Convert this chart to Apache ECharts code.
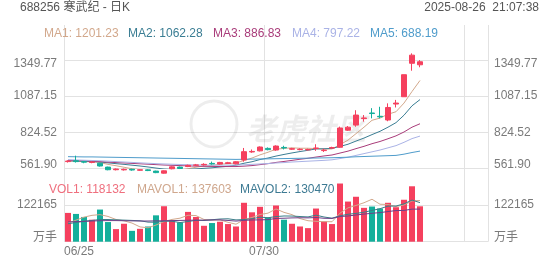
<!DOCTYPE html>
<html><head><meta charset="utf-8">
<script src="https://cdn.jsdelivr.net/npm/echarts@6/dist/echarts.min.js"></script>
<style>html,body{margin:0;padding:0;background:#fff}#c{width:552px;height:265px}</style>
</head><body><div id="c"></div>
<script>
// ---------- data ----------
const dates = ['06/25','06/26','06/27','06/30','07/01','07/02','07/03','07/04','07/07','07/08','07/09','07/10','07/11','07/14','07/15','07/16','07/17','07/18','07/21','07/22','07/23','07/24','07/25','07/28','07/29','07/30','07/31','08/01','08/04','08/05','08/06','08/07','08/08','08/11','08/12','08/13','08/14','08/15','08/18','08/19','08/20','08/21','08/22','08/25','08/26'];
const emptySlots = 8;
const opens  = [612,618,612,606,600,572,553,552,556,549,552,543,528,560,572,576,585,588,599,594,598,596,624,682,690,708,696,715,702,699,697,707,692,710,716,840,877,924,965,941,914,1030,1083,1326,1315];
const closes = [616,612,608,609,580,553,558,556,551,553,547,532,545,574,562,585,588,592,595,606,604,611,684,686,718,699,725,711,706,702,700,711,695,714,856,862,950,929,961,937,1005,1037,1243,1385,1337];
const lows   = [605,605,600,600,576,549,548,547,546,545,543,528,525,556,558,572,580,583,590,590,595,592,611,676,686,694,690,700,697,694,693,690,682,705,712,835,865,902,926,926,905,1005,1083,1272,1297];
const highs  = [622,655,616,615,603,575,562,561,560,557,556,546,548,578,576,590,595,600,612,610,610,615,711,700,722,715,730,727,712,708,706,738,705,720,866,870,985,950,1000,1010,1035,1060,1243,1398,1349];
const ma1 = [615,614,612,611,605,592,582,571,560,554,553,548,546,550,552,560,571,580,584,593,597,602,620,638,661,680,702,708,712,709,709,706,703,704,735,768,815,862,912,928,956,974,1037,1121,1201.23];
const ma2 = [618,617,615,613,609,603,597,592,586,580,573,565,558,555,553,556,559,563,567,573,578,586,600,611,627,638,652,664,675,685,694,704,705,708,722,738,761,783,808,832,862,895,949,1017,1062.28];
const ma3 = [621,619,617,615,612,608,605,602,599,596,593,590,587,585,583,581,579,578,577,576,576,576,579,583,590,597,606,613,621,629,636,645,653,660,674,688,706,723,742,758,778,799,827,862,886.83];
const ma4 = [626,624,622,620,618,615,612,609,606,603,600,597,595,593,591,589,588,587,586,586,586,587,589,592,595,598,602,605,609,612,615,618,621,625,634,644,657,670,683,696,712,728,752,779,797.22];
const ma5 = [648,647,646,646,645,644,643,642,641,640,639,638,637,636,635,634,633,632,631,630,629,628,629,630,631,632,633,634,635,636,637,638,639,640,642,644,647,649,651,653,655,657,666,678,688.19];
const volumes = [96100,92700,82600,73400,107300,65600,42000,59900,36200,43000,50800,88000,118400,71100,64300,99500,82600,53100,62300,66700,58900,50800,129900,98100,116400,81200,120800,73400,59900,50800,45300,110700,67700,58900,194200,134000,150000,113000,117400,110700,129900,115100,140000,185000,118132];
const mavol1 = [62000,72000,82000,88000,90420,84320,74180,69640,62200,49340,46380,55580,67280,74260,78520,88260,87180,74120,72360,72840,64720,58360,73720,80880,90820,95280,109280,97980,90340,77220,70040,68020,66880,66680,95360,113100,120960,130020,141720,125020,124200,117220,122620,136140,137603];
const mavol2 = [60000,64000,68000,71000,74000,74000,73000,72000,71000,69880,65350,64880,68460,68230,63930,67320,71380,70700,73310,75680,76490,72770,73920,76620,81830,80000,83820,85850,85610,84020,82660,88650,82430,78510,86290,91570,94490,98450,104200,110190,118650,119090,126320,138930,130470];
const mavol3 = [66000,67000,68000,69000,70000,70500,70500,70000,69500,69000,69000,69500,70000,70500,71000,71500,72000,72000,72500,72780,70920,68825,71190,72425,72880,73660,77600,78275,79460,79850,79575,80710,78175,77565,84060,85785,89155,92150,94905,97105,100655,103870,104375,108720,108807];
const priceTickLabels = ['561.90','824.52','1087.15','1349.77'];
const priceMin = 561.90, priceInterval = 262.625, priceMax = 1349.775;
const volTickLabels = ['万手','122165',''];
const volInterval = 122165, volMax = 244330;
const maNames = ['MA1','MA2','MA3','MA4','MA5'];
const maLegendValues = ['1201.23','1062.28','886.83','797.22','688.19'];
const volLegendNames = ['VOL1','MAVOL1','MAVOL2'];
const volLegendValues = ['118132','137603','130470'];
const headerTitle = '688256 寒武纪 - 日K';
const headerTime = '2025-08-26  21:07:38';

// ---------- styles ----------
const FONT = '"Liberation Sans", Arial, "Noto Sans CJK SC", sans-serif';
const UP = '#f5405e', DOWN = '#14af9b';
const GRID_LINE = '#e2e2e2';
const LABEL = '#7a7a7a';
const maColors = ['#d2a88c','#3a7d93','#a93c7a','#aab3e6','#4f9ccb'];
const volColors = ['#ef6f7e','#cfa78d','#3d7a93'];
const volLineColors = ['#d2a88c','#3b7d88','#6e3f88'];

const categories = dates.concat(new Array(emptySlots).fill(''));
const candles = dates.map((d,i)=>[opens[i],closes[i],lows[i],highs[i]]);

const chart = echarts.init(document.getElementById('c'), null, {renderer:'canvas'});

const hiddenCat = (gi)=>({type:'category',gridIndex:gi,data:categories,boundaryGap:true,
  axisLine:{show:false},axisTick:{show:false},axisLabel:{show:false},splitLine:{show:false}});

const priceAxis = (pos)=>({type:'value',gridIndex:0,position:pos,min:priceMin,max:priceMax,interval:priceInterval,
  axisLine:{show:false},axisTick:{show:false},
  splitLine:{show:pos==='left',lineStyle:{color:GRID_LINE,width:1}},
  axisLabel:{color:LABEL,fontSize:12,fontFamily:FONT,margin:pos==='left'?7:6,lineHeight:8,
    verticalAlignMinLabel:'bottom',verticalAlignMaxLabel:'top',
    formatter:v=>priceTickLabels[Math.round((v-priceMin)/priceInterval)]||''}});

const volAxis = (pos)=>({type:'value',gridIndex:1,position:pos,min:0,max:volMax,interval:volInterval,
  axisLine:{show:false},axisTick:{show:false},
  splitLine:{show:pos==='left',lineStyle:{color:GRID_LINE,width:1}},
  axisLabel:{color:LABEL,fontSize:12,fontFamily:FONT,margin:pos==='left'?7:6,lineHeight:8,
    verticalAlignMinLabel:'bottom',showMaxLabel:false,
    formatter:v=>volTickLabels[Math.round(v/volInterval)]||''}});

const maSeries = [ma1,ma2,ma3,ma4,ma5].map((d,k)=>({type:'line',name:maNames[k],xAxisIndex:0,yAxisIndex:0,
  data:d,symbol:'none',smooth:false,lineStyle:{width:1,color:maColors[k]},z:3,silent:true}));
const volMaSeries = [mavol1,mavol2,mavol3].map((d,k)=>({type:'line',xAxisIndex:1,yAxisIndex:2,
  data:d,symbol:'none',lineStyle:{width:1,color:volLineColors[k]},z:3,silent:true}));

const graphics = [];
graphics.push({type:'text',x:20,y:8,z:100,style:{text:headerTitle,fill:'#555',font:'12px '+FONT,verticalAlign:'middle'}});
graphics.push({type:'text',x:539,y:8,z:100,style:{text:headerTime,fill:'#555',font:'12px '+FONT,align:'right',verticalAlign:'middle'}});
const maX = [44,128,213,292,370];
maNames.forEach((n,k)=>graphics.push({type:'text',x:maX[k],y:34,z:100,
  style:{text:n+': '+maLegendValues[k],fill:maColors[k],font:'12px '+FONT,verticalAlign:'middle'}}));
const volX = [49,137,240];
volLegendNames.forEach((n,k)=>graphics.push({type:'text',x:volX[k],y:190,z:100,
  style:{text:n+': '+volLegendValues[k],fill:volColors[k],font:'12px '+FONT,verticalAlign:'middle'}}));
// watermark
graphics.push({type:'circle',z:1,shape:{cx:214,cy:124,r:23},style:{fill:'none',stroke:'rgba(0,0,0,0.07)',lineWidth:3}});
graphics.push({type:'text',x:246,y:129,z:1,style:{text:'老虎社区',fill:'rgba(0,0,0,0.07)',font:'italic bold 30px "Noto Sans CJK SC"',verticalAlign:'middle'}});

chart.setOption({
  animation:false,
  backgroundColor:'#fff',
  textStyle:{fontFamily:FONT},
  grid:[
    {left:64,right:64,top:60,height:108.5,outerBoundsMode:'none'},
    {left:64,right:64,top:168.5,height:73.2,outerBoundsMode:'none'},
    {left:64,right:64,top:25,height:216.7,outerBoundsMode:'none'}
  ],
  xAxis:[
    hiddenCat(0), hiddenCat(1),
    {type:'value',gridIndex:2,min:0,max:categories.length,interval:25,
      axisLine:{show:false},axisTick:{show:false},
      splitLine:{show:true,lineStyle:{color:GRID_LINE,width:1}},
      axisLabel:{color:LABEL,fontSize:12,fontFamily:FONT,margin:4,alignMinLabel:'left',
        formatter:v=>categories[v]||''}}
  ],
  yAxis:[priceAxis('left'),priceAxis('right'),volAxis('left'),volAxis('right'),
    {type:'value',gridIndex:2,show:false,splitLine:{show:false}}],
  series:[
    {type:'candlestick',xAxisIndex:0,yAxisIndex:0,data:candles,barWidth:6,clip:false,z:4,
      itemStyle:{color:UP,color0:DOWN,borderColor:UP,borderColor0:DOWN,borderWidth:1}},
    ...maSeries,
    {type:'bar',xAxisIndex:1,yAxisIndex:2,data:volumes,barWidth:6,z:2,
      itemStyle:{color:p=>closes[p.dataIndex]>=opens[p.dataIndex]?UP:DOWN}},
    ...volMaSeries
  ],
  graphic:graphics
});
</script></body></html>
